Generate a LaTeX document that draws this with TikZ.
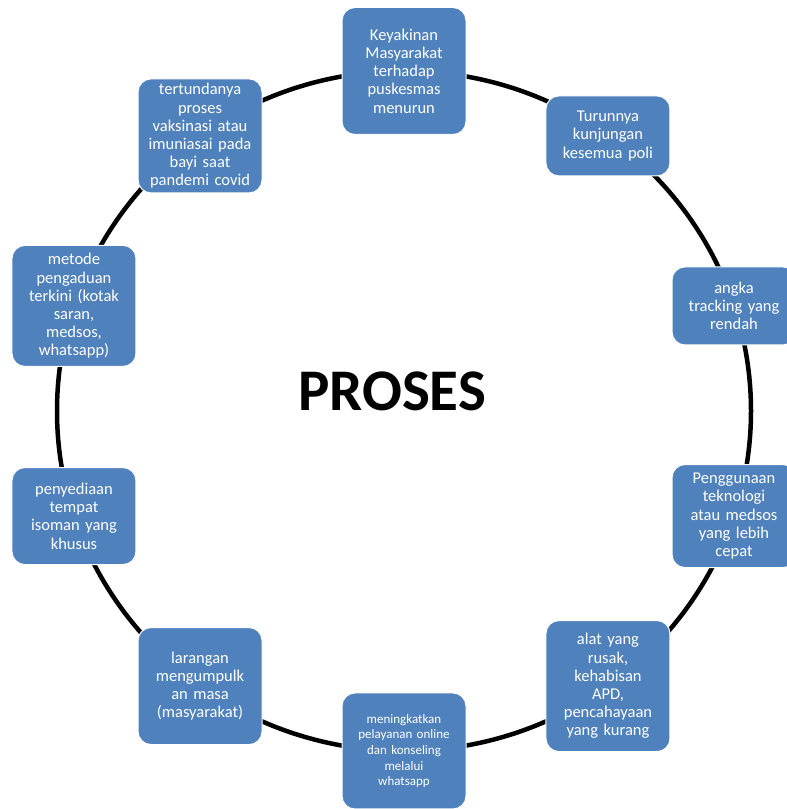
\documentclass[tikz,border=0pt]{standalone}
\usepackage{fontspec}
\setmainfont{Carlito}
\usetikzlibrary{positioning}
\definecolor{boxblue}{RGB}{79,129,189}

\begin{document}
\begin{tikzpicture}[x=1pt, y=1pt,
    item/.style={rectangle, rounded corners=13pt, fill=boxblue, draw=white,
        line width=1pt, text=white, text width=116pt, inner xsep=4pt,
        inner ysep=3pt, align=center, font=\fontsize{16.5}{18.2}\selectfont},
    ring/.style={line width=4.5pt, black}]
    \useasboundingbox (0,0) rectangle (787,809);

    % Define coordinates
    \coordinate (O) at (404,398);

    % Cycle ring
    \draw[ring] (O) ellipse [x radius=347pt, y radius=340pt];

    % Steps of the cycle
    \node[item, minimum height=127pt] (keyakinan) at ([shift={(90:347pt and 340pt)}]O)
        {Keyakinan\\ Masyarakat\\ terhadap\\ puskesmas\\ menurun};
    \node[item, minimum height=80pt] (turunnya) at ([shift={(54:347pt and 340pt)}]O)
        {Turunnya\\ kunjungan\\ kesemua poli};
    \node[item, minimum height=78pt] (angka) at ([shift={(18:347pt and 340pt)}]O)
        {angka\\ tracking yang\\ rendah};
    \node[item, minimum height=103pt] (teknologi) at ([shift={(-18:347pt and 340pt)}]O)
        {Penggunaan\\ teknologi\\ atau medsos\\ yang lebih\\ cepat};
    \node[item, minimum height=131pt] (alat) at ([shift={(-54:347pt and 340pt)}]O)
        {alat yang\\ rusak,\\ kehabisan\\ APD,\\ pencahayaan\\ yang kurang};
    \node[item, minimum height=116pt, font=\fontsize{13}{15.6}\selectfont] (online)
        at ([shift={(-90:347pt and 340pt)}]O)
        {meningkatkan\\ pelayanan online\\ dan konseling\\ melalui\\ whatsapp};
    \node[item, minimum height=117pt] (larangan) at ([shift={(-126:347pt and 340pt)}]O)
        {larangan\\ mengumpulk\\ an masa\\ (masyarakat)};
    \node[item, minimum height=97pt] (isoman) at ([shift={(-162:347pt and 340pt)}]O)
        {penyediaan\\ tempat\\ isoman yang\\ khusus};
    \node[item, minimum height=121pt] (pengaduan) at ([shift={(162:347pt and 340pt)}]O)
        {metode\\ pengaduan\\ terkini (kotak\\ saran,\\ medsos,\\ whatsapp)};
    \node[item, minimum height=114pt] (vaksinasi) at ([shift={(126:347pt and 340pt)}]O)
        {tertundanya\\ proses\\ vaksinasi atau\\ imuniasai pada\\ bayi saat\\ pandemi covid};

    % Title in the middle
    \node[font=\fontsize{59}{64}\selectfont\bfseries] (proses) at (392,418) {PROSES};
\end{tikzpicture}
\end{document}
